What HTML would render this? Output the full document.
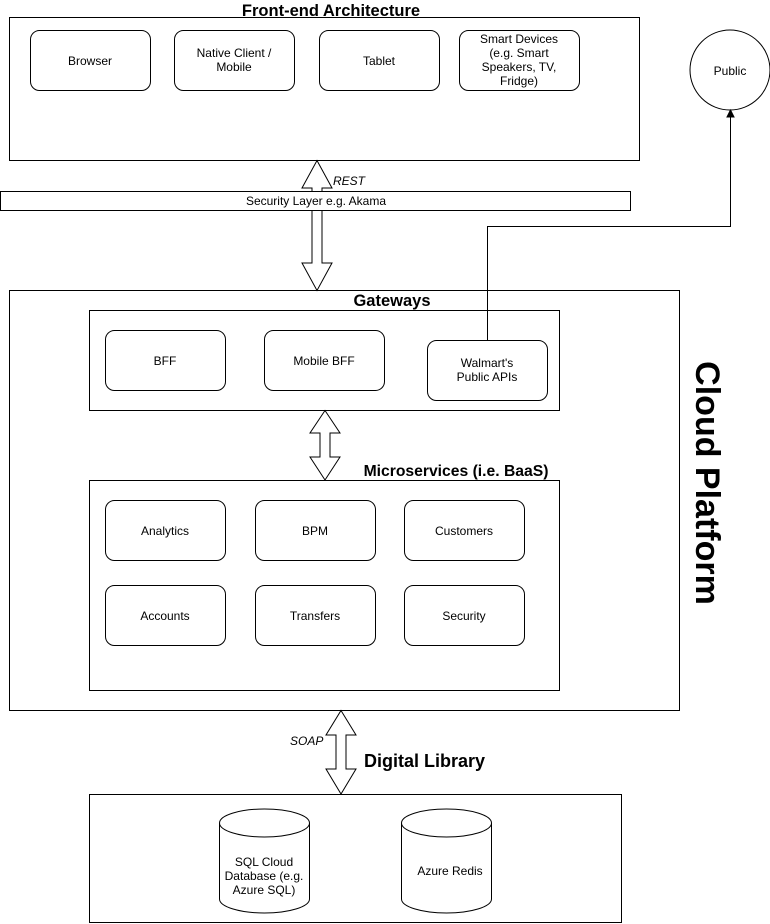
<!DOCTYPE html>
<html><head><style>body{margin:0;background:#fff}svg{display:block}text{font-family:"Liberation Sans",Arial,sans-serif}</style></head><body>
<svg width="770" height="924" viewBox="0 0 770 924" xmlns="http://www.w3.org/2000/svg">
<g fill="#fff" stroke="#000" stroke-width="1">
<rect x="9.5" y="17.5" width="630" height="143"/>
<rect x="30.5" y="30.5" width="120" height="60" rx="9"/>
<rect x="174.5" y="30.5" width="120" height="60" rx="9"/>
<rect x="319.5" y="30.5" width="120" height="60" rx="9"/>
<rect x="459.5" y="30.5" width="120" height="60" rx="9"/>
<circle cx="730" cy="70" r="40"/>
<rect x="9.5" y="290.5" width="670" height="420"/>
<rect x="89.5" y="310.5" width="470" height="100"/>
<rect x="105.5" y="330.5" width="120" height="60" rx="9"/>
<rect x="264.5" y="330.5" width="120" height="60" rx="9"/>
<rect x="427.5" y="340.5" width="120" height="60" rx="9"/>
<rect x="89.5" y="480.5" width="470" height="210"/>
<rect x="105.5" y="500.5" width="120" height="60" rx="9"/>
<rect x="255.5" y="500.5" width="120" height="60" rx="9"/>
<rect x="404.5" y="500.5" width="120" height="60" rx="9"/>
<rect x="105.5" y="585.5" width="120" height="60" rx="9"/>
<rect x="255.5" y="585.5" width="120" height="60" rx="9"/>
<rect x="404.5" y="585.5" width="120" height="60" rx="9"/>
<rect x="89.5" y="794.5" width="532" height="128"/>
<path d="M219.5 823 A45 14 0 0 1 309.5 823 L309.5 899 A45 14 0 0 1 219.5 899 Z M219.5 823 A45 14 0 0 0 309.5 823"/>
<path d="M401.5 823 A45 14 0 0 1 491.5 823 L491.5 899 A45 14 0 0 1 401.5 899 Z M401.5 823 A45 14 0 0 0 491.5 823"/>
<path d="M317 160.5 L332 188 L322 188 L322 263 L332 263 L317 290.5 L302 263 L312 263 L312 188 L302 188 Z"/>
<rect x="0.5" y="191.5" width="630" height="19"/>
<path d="M325 410.5 L340 433 L330 433 L330 457 L340 457 L325 480 L310 457 L320 457 L320 433 L310 433 Z"/>
<path d="M341 710.5 L356 735 L346 735 L346 769 L356 769 L341 794 L326 769 L336 769 L336 735 L326 735 Z"/>
</g>
<path d="M487.5 340 L487.5 226.5 L730.5 226.5 L730.5 116" fill="none" stroke="#000"/>
<path d="M727 117 L730.5 110 L734 117 Z" fill="#000" stroke="#000"/>
<g font-size="12" text-anchor="middle" fill="#000">
<text x="90" y="65">Browser</text>
<text x="234" y="57">Native Client /</text><text x="234" y="71">Mobile</text>
<text x="379" y="65">Tablet</text>
<text x="519" y="43">Smart Devices</text><text x="519" y="57">(e.g. Smart</text><text x="519" y="71">Speakers, TV,</text><text x="519" y="85">Fridge)</text>
<text x="730" y="75">Public</text>
<text x="316" y="205">Security Layer e.g. Akama</text>
<text x="165" y="365">BFF</text>
<text x="324" y="365">Mobile BFF</text>
<text x="487" y="367">Walmart's</text><text x="487" y="381">Public APIs</text>
<text x="165" y="535">Analytics</text>
<text x="315" y="535">BPM</text>
<text x="464" y="535">Customers</text>
<text x="165" y="620">Accounts</text>
<text x="315" y="620">Transfers</text>
<text x="464" y="620">Security</text>
<text x="264" y="866">SQL Cloud</text><text x="264" y="880">Database (e.g.</text><text x="264" y="894">Azure SQL)</text>
<text x="450" y="875">Azure Redis</text>
</g>
<g font-size="12" font-style="italic" fill="#000">
<text x="333" y="185">REST</text>
<text x="290" y="745">SOAP</text>
</g>
<g font-weight="bold" fill="#000">
<text x="331" y="16" font-size="16.5" text-anchor="middle">Front-end Architecture</text>
<text x="392" y="306" font-size="16.5" text-anchor="middle">Gateways</text>
<text x="456" y="476" font-size="15.7" text-anchor="middle">Microservices (i.e. BaaS)</text>
<text x="364" y="767" font-size="18">Digital Library</text>
<text transform="translate(696,483) rotate(90)" font-size="34" text-anchor="middle">Cloud Platform</text>
</g>
</svg>
</body></html>
